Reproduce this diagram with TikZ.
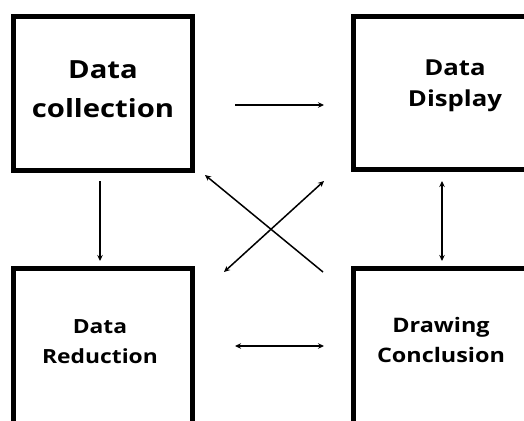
\documentclass[tikz,border=0pt]{standalone}
\usepackage{fontspec}
\setmainfont{Open Sans}[FakeStretch=1.17]
\usetikzlibrary{arrows.meta}
\begin{document}
\begin{tikzpicture}[x=1pt,y=-1pt,
  box/.style={draw=black,line width=5pt,rectangle,inner sep=0pt,outer sep=0pt},
  lbl/.style={align=center,inner sep=0pt,anchor=base,text=black},
  conn/.style={line width=1.5pt,draw=black},
  tip/.tip={Stealth[length=6pt,width=5.5pt]}]
\useasboundingbox (0,0) rectangle (524,420);
\clip (0,0) rectangle (524,420);
% boxes
\node[box,minimum width=179pt,minimum height=154pt] (tl) at (103,93.5) {};
\node[box,minimum width=266.5pt,minimum height=153pt] (tr) at (486.75,93) {};
\node[box,minimum width=179pt,minimum height=251.5pt] (bl) at (103,394.25) {};
\node[box,minimum width=266.5pt,minimum height=251.5pt] (br) at (486.75,394.25) {};
% labels (anchored at the baseline of the last line)
\node[lbl,font=\bfseries\fontsize{25}{39}\selectfont] (tlt) at (103,117) {Data\\collection};
\node[lbl,font=\bfseries\fontsize{22}{31}\selectfont] (trt) at (455,106) {Data\\Display};
\node[lbl,font=\bfseries\fontsize{19.5}{30}\selectfont] (blt) at (100,363) {Data\\Reduction};
\node[lbl,font=\bfseries\fontsize{20}{30}\selectfont] (brt) at (441,362) {Drawing\\Conclusion};
% connector ends
\coordinate (a1) at (235,105); \coordinate (a2) at (324,105);
\coordinate (b1) at (100,181); \coordinate (b2) at (100,261);
\coordinate (c1) at (442,181); \coordinate (c2) at (442,261);
\coordinate (d1) at (235,346); \coordinate (d2) at (324,346);
\coordinate (e1) at (323,272); \coordinate (e2) at (205,175);
\coordinate (f1) at (224,272); \coordinate (f2) at (324,181);
% connectors
\draw[conn,-tip] (a1) -- (a2);
\draw[conn,-tip] (b1) -- (b2);
\draw[conn,tip-tip] (c1) -- (c2);
\draw[conn,tip-tip] (d1) -- (d2);
\draw[conn,-tip] (e1) -- (e2);
\draw[conn,tip-tip] (f1) -- (f2);
\end{tikzpicture}
\end{document}
